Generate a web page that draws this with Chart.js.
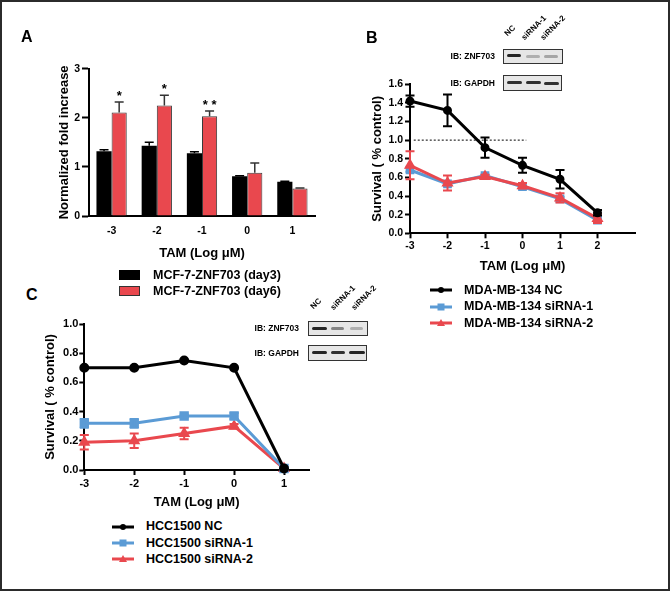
<!DOCTYPE html>
<html>
<head>
<meta charset="utf-8">
<script src="https://cdn.jsdelivr.net/npm/chart.js@4.4.1/dist/chart.umd.min.js"></script>
<style>
  body { margin: 0; background: #fff; }
  #fig {
    position: relative; width: 670px; height: 591px; box-sizing: border-box;
    border: 2px solid #2b2b2b; background: #fff; overflow: hidden;
    font-family: "Liberation Sans", Arial, sans-serif; font-weight: bold; color: #000;
  }
  canvas { position: absolute; }
  .txt { position: absolute; white-space: nowrap; }
  .letter { font-size: 16px; line-height: 16px; }
  .leg { font-size: 12.5px; line-height: 12.5px; }
  .ib { font-size: 8.5px; line-height: 8.5px; text-align: right; width: 60px; }
  .lane { font-size: 8px; line-height: 8px; transform-origin: 0 100%; transform: rotate(-45deg); }
  .blot { position: absolute; box-sizing: border-box; border: 1.5px solid #333; background: #e6e6e6; }
  .band { position: absolute; height: 3px; border-radius: 2px; background: #111; filter: blur(0.7px); }
  .swatch { position: absolute; box-sizing: border-box; }
</style>
</head>
<body>
<div id="fig">
  <canvas id="chartA" width="305" height="225" style="left:18px;top:38px"></canvas>
  <canvas id="chartB" width="310" height="245" style="left:338px;top:38px"></canvas>
  <canvas id="chartC" width="300" height="205" style="left:18px;top:308px"></canvas>
</div>

<script>
// panel A: bars
const barLabels = ['-3', '-2', '-1', '0', '1'];
const day3 = [1.32, 1.43, 1.28, 0.81, 0.70];
const day3Err = [0.03, 0.07, 0.03, 0.01, 0.01];
const day6 = [2.11, 2.25, 2.03, 0.88, 0.56];
const day6Err = [0.21, 0.21, 0.11, 0.20, 0.01];
const stars = ['*', '*', '* *', '', ''];

// panel B: MDA-MB-134
const doseB = [-3, -2, -1, 0, 1, 2];
const mdaNC = [1.42, 1.32, 0.92, 0.73, 0.58, 0.22];
const mdaNCErr = [0.06, 0.17, 0.11, 0.08, 0.10, 0.03];
const mdaSi1 = [0.68, 0.53, 0.62, 0.50, 0.37, 0.14];
const mdaSi1Err = [0.02, 0.02, 0.01, 0.01, 0.02, 0.02];
const mdaSi2 = [0.73, 0.54, 0.61, 0.51, 0.38, 0.16];
const mdaSi2Err = [0.15, 0.08, 0.02, 0.03, 0.05, 0.05];
const refX = [-2.9, 0.1];
const refY = [1.0, 1.0];

// panel C: HCC1500
const doseC = [-3, -2, -1, 0, 1];
const hccNC = [0.70, 0.70, 0.75, 0.70, 0.01];
const hccNCErr = [0, 0, 0, 0, 0];
const hccSi1 = [0.32, 0.32, 0.37, 0.37, 0.01];
const hccSi1Err = [0.03, 0.03, 0.01, 0.02, 0];
const hccSi2 = [0.19, 0.20, 0.25, 0.30, 0.01];
const hccSi2Err = [0.05, 0.05, 0.04, 0.015, 0];

const RED = '#e9484e';
const BLUE = '#5b9bd5';
const FONT = '"Liberation Sans", Arial, sans-serif';

Chart.defaults.font.family = FONT;
Chart.defaults.font.weight = 'bold';
Chart.defaults.color = '#000';

const pts = (xs, ys) => xs.map((x, i) => ({ x: x, y: ys[i] }));

// error bars, drawn right after each dataset so layering follows dataset order
const errorBars = {
  id: 'errorBars',
  afterDatasetDraw(chart, args, opts) {
    const ds = chart.data.datasets[args.index];
    if (!ds.errors) return;
    const y = chart.scales.y;
    const ctx = chart.ctx;
    ctx.save();
    ctx.strokeStyle = ds.errorColor || ds.borderColor;
    ctx.lineWidth = opts.width || 2;
    args.meta.data.forEach((el, j) => {
      const e = ds.errors[j];
      if (!e) return;
      const d = ds.data[j];
      const v = typeof d === 'object' ? d.y : d;
      const top = y.getPixelForValue(v + e);
      const bot = opts.upperOnly ? y.getPixelForValue(v) : y.getPixelForValue(v - e);
      const c = opts.cap || 4.5;
      ctx.beginPath();
      ctx.moveTo(el.x, top); ctx.lineTo(el.x, bot);
      ctx.moveTo(el.x - c, top); ctx.lineTo(el.x + c, top);
      if (!opts.upperOnly) { ctx.moveTo(el.x - c, bot); ctx.lineTo(el.x + c, bot); }
      ctx.stroke();
    });
    ctx.restore();
  }
};

const starMarks = {
  id: 'starMarks',
  afterDatasetsDraw(chart, args, opts) {
    if (!opts.marks) return;
    const ds = chart.data.datasets[opts.dataset];
    const meta = chart.getDatasetMeta(opts.dataset);
    const y = chart.scales.y;
    const ctx = chart.ctx;
    ctx.save();
    ctx.font = 'bold 13px ' + FONT;
    ctx.fillStyle = '#000';
    ctx.textAlign = 'center';
    ctx.textBaseline = 'alphabetic';
    opts.marks.forEach((m, i) => {
      if (!m) return;
      ctx.fillText(m, meta.data[i].x, y.getPixelForValue(ds.data[i] + ds.errors[i]) - 2);
    });
    ctx.restore();
  }
};

function axisGrid(len) {
  return { drawOnChartArea: false, drawTicks: len > 0, tickLength: len, tickWidth: 2, tickColor: '#000', color: '#000' };
}

// ---- A ----
new Chart(document.getElementById('chartA'), {
  type: 'bar',
  data: {
    labels: barLabels,
    datasets: [
      { label: 'MCF-7-ZNF703 (day3)', data: day3, errors: day3Err, backgroundColor: '#000', borderColor: '#000', borderWidth: 0, errorColor: '#000' },
      { label: 'MCF-7-ZNF703 (day6)', data: day6, errors: day6Err, backgroundColor: RED, borderColor: '#3a3a3a', borderWidth: 1, errorColor: '#333' }
    ]
  },
  options: {
    responsive: false, animation: false, devicePixelRatio: 1,
    layout: { padding: { top: 28.7, right: 10, bottom: 0, left: 0 } },
    datasets: { bar: { barPercentage: 1, categoryPercentage: 0.67 } },
    plugins: {
      legend: { display: false }, tooltip: { enabled: false },
      errorBars: { upperOnly: true, cap: 4.5, width: 1.5 },
      starMarks: { dataset: 1, marks: stars }
    },
    scales: {
      x: {
        afterFit: s => { s.height = 49; },
        border: { color: '#000', width: 2 },
        grid: { display: false, drawTicks: false },
        ticks: { font: { size: 10.5 }, padding: 9 },
        title: { display: true, text: 'TAM (Log μM)', font: { size: 13 }, padding: { top: 0, bottom: 3.7 } }
      },
      y: {
        min: 0, max: 3,
        afterFit: s => { s.width = 69; },
        border: { color: '#000', width: 2 },
        grid: axisGrid(7),
        ticks: { stepSize: 1, font: { size: 10.5 }, padding: 2 },
        title: { display: true, text: 'Normalized fold increase', font: { size: 13 }, padding: { top: 37, bottom: 0 } }
      }
    }
  },
  plugins: [errorBars, starMarks]
});

// ---- B ----
new Chart(document.getElementById('chartB'), {
  type: 'line',
  data: {
    datasets: [
      { label: 'MDA-MB-134 NC', data: pts(doseB, mdaNC), errors: mdaNCErr, borderColor: '#000', backgroundColor: '#000', borderWidth: 3, pointRadius: 3, pointStyle: 'circle', order: 1, clip: false },
      { label: 'MDA-MB-134 siRNA-1', data: pts(doseB, mdaSi1), errors: mdaSi1Err, borderColor: BLUE, backgroundColor: BLUE, borderWidth: 3, pointRadius: 4, pointStyle: 'rect', order: 3, clip: false },
      { label: 'MDA-MB-134 siRNA-2', data: pts(doseB, mdaSi2), errors: mdaSi2Err, borderColor: RED, backgroundColor: RED, borderWidth: 3, pointRadius: 4, pointStyle: 'triangle', order: 2, clip: false },
      { label: 'ref', data: pts(refX, refY), borderColor: '#555', borderWidth: 1.5, borderDash: [2, 2], pointRadius: 0, order: 4 }
    ]
  },
  options: {
    responsive: false, animation: false, devicePixelRatio: 1,
    layout: { padding: { top: 44.3, right: 15, bottom: 0, left: 0 } },
    plugins: { legend: { display: false }, tooltip: { enabled: false }, errorBars: { cap: 4.5, width: 2 } },
    scales: {
      x: {
        type: 'linear', min: -3, max: 3,
        afterFit: s => { s.height = 51.7; },
        afterBuildTicks: s => { s.ticks = s.ticks.filter(t => t.value < 2.5); },
        border: { color: '#000', width: 2 },
        grid: axisGrid(5),
        ticks: { stepSize: 1, includeBounds: false, font: { size: 10.5 }, padding: 2 },
        title: { display: true, text: 'TAM (Log μM)', font: { size: 13 }, padding: { top: 0, bottom: 10.5 } }
      },
      y: {
        min: 0, max: 1.6,
        afterFit: s => { s.width = 70; },
        border: { color: '#000', width: 2 },
        grid: axisGrid(5),
        ticks: { stepSize: 0.2, font: { size: 10.5 }, padding: 2, callback: v => v.toFixed(1) },
        title: { display: true, text: 'Survival ( % control)', font: { size: 13 }, padding: { top: 29.5, bottom: 0 } }
      }
    }
  },
  plugins: [errorBars]
});

// ---- C ----
new Chart(document.getElementById('chartC'), {
  type: 'line',
  data: {
    datasets: [
      { label: 'HCC1500 NC', data: pts(doseC, hccNC), errors: hccNCErr, borderColor: '#000', backgroundColor: '#000', borderWidth: 3, pointRadius: 3.5, pointStyle: 'circle', order: 1, clip: false },
      { label: 'HCC1500 siRNA-1', data: pts(doseC, hccSi1), errors: hccSi1Err, borderColor: BLUE, backgroundColor: BLUE, borderWidth: 3, pointRadius: 4.5, pointStyle: 'rect', order: 2, clip: false },
      { label: 'HCC1500 siRNA-2', data: pts(doseC, hccSi2), errors: hccSi2Err, borderColor: RED, backgroundColor: RED, borderWidth: 3, pointRadius: 4, pointStyle: 'triangle', order: 3, clip: false }
    ]
  },
  options: {
    responsive: false, animation: false, devicePixelRatio: 1,
    layout: { padding: { top: 14, right: 11, bottom: 0, left: 0 } },
    plugins: { legend: { display: false }, tooltip: { enabled: false }, errorBars: { cap: 4.5, width: 2 } },
    scales: {
      x: {
        type: 'linear', min: -3, max: 1.5,
        afterFit: s => { s.height = 45; },
        afterBuildTicks: s => { s.ticks = s.ticks.filter(t => t.value < 1.4); },
        border: { color: '#000', width: 2 },
        grid: axisGrid(5),
        ticks: { stepSize: 1, includeBounds: false, font: { size: 11 }, padding: 2 },
        title: { display: true, text: 'TAM (Log μM)', font: { size: 13 }, padding: { top: 0, bottom: 4.5 } }
      },
      y: {
        min: 0, max: 1.0,
        afterFit: s => { s.width = 64.3; },
        border: { color: '#000', width: 2 },
        grid: axisGrid(5),
        ticks: { stepSize: 0.2, font: { size: 11 }, padding: 1, callback: v => v.toFixed(1) },
        title: { display: true, text: 'Survival ( % control)', font: { size: 13 }, padding: { top: 22.9, bottom: 0 } }
      }
    }
  },
  plugins: [errorBars]
});

// ---- text, legends and blot insets (positions are page pixels; #fig has a 2px border) ----
const fig = document.getElementById('fig');
function put(html, cls, left, top, extra) {
  const d = document.createElement('div');
  d.className = cls;
  d.innerHTML = html;
  d.style.left = (left - 2) + 'px';
  d.style.top = (top - 2) + 'px';
  if (extra) Object.assign(d.style, extra);
  fig.appendChild(d);
  return d;
}

put('A', 'txt letter', 21, 29);
put('B', 'txt letter', 366, 30);
put('C', 'txt letter', 26, 287);

// legend A
put('', 'swatch', 119, 270, { width: '21px', height: '10px', background: '#000' });
put('', 'swatch', 119, 286, { width: '21px', height: '10px', background: RED, border: '1px solid #333' });
put('MCF-7-ZNF703 (day3)', 'txt leg', 153, 269);
put('MCF-7-ZNF703 (day6)', 'txt leg', 153, 285);

function marker(color, shape) {
  let s = '';
  if (shape === 'circle') s = '<circle cx="11" cy="5" r="3" fill="' + color + '"/>';
  if (shape === 'rect') s = '<rect x="7.5" y="1.5" width="7" height="7" fill="' + color + '"/>';
  if (shape === 'triangle') s = '<polygon points="11,1 15,8 7,8" fill="' + color + '"/>';
  return '<svg width="22" height="10"><line x1="0" y1="5" x2="22" y2="5" stroke="' + color + '" stroke-width="3"/>' + s + '</svg>';
}
function lineLegend(x, tx, rows, names) {
  const styles = [['#000', 'circle'], [BLUE, 'rect'], [RED, 'triangle']];
  rows.forEach((cy, i) => {
    put(marker(styles[i][0], styles[i][1]), 'txt', x, cy - 5, { lineHeight: '0' });
    put(names[i], 'txt leg', tx, cy - 6.25);
  });
}
lineLegend(430, 464, [290, 306.5, 323], ['MDA-MB-134 NC', 'MDA-MB-134 siRNA-1', 'MDA-MB-134 siRNA-2']);
lineLegend(112, 146, [526.5, 543, 559.3], ['HCC1500 NC', 'HCC1500 siRNA-1', 'HCC1500 siRNA-2']);

// blot insets
function blot(x, y, w, h, bands) {
  const b = put('', 'blot', x, y, { width: w + 'px', height: h + 'px' });
  bands.forEach(bd => {
    const s = document.createElement('span');
    s.className = 'band';
    s.style.left = bd[0] + 'px';
    s.style.width = bd[1] + 'px';
    s.style.top = bd[2] + 'px';
    s.style.opacity = bd[3];
    b.appendChild(s);
  });
}
function inset(bx, labRight, lanes, zBands, gBands, zy, gy) {
  put('IB: ZNF703', 'txt ib', labRight - 60, zy + 7.5 - 4.25);
  put('IB: GAPDH', 'txt ib', labRight - 60, gy + 8 - 4.25);
  blot(bx, zy, 60, 15, zBands);
  blot(bx, gy, 59, 16, gBands);
  lanes.forEach(l => put(l[0], 'txt lane', l[1], l[2] - 8));
}
inset(503, 495,
  [['NC', 509, 38], ['siRNA-1', 526, 42], ['siRNA-2', 545, 42]],
  [[3, 14, 4, 0.9], [22, 14, 4.5, 0.25], [40, 14, 4.5, 0.3]],
  [[3, 15, 5, 0.85], [22, 15, 5, 0.85], [40, 15, 5.5, 0.85]],
  49, 75);
inset(308, 299,
  [['NC', 315, 311], ['siRNA-1', 335, 312], ['siRNA-2', 356, 312]],
  [[3, 15, 4.5, 0.9], [22, 13, 5, 0.45], [41, 13, 5, 0.25]],
  [[3, 15, 5, 0.9], [22, 14, 5, 0.85], [40, 16, 5, 0.9]],
  321, 345);
</script>
</body>
</html>
